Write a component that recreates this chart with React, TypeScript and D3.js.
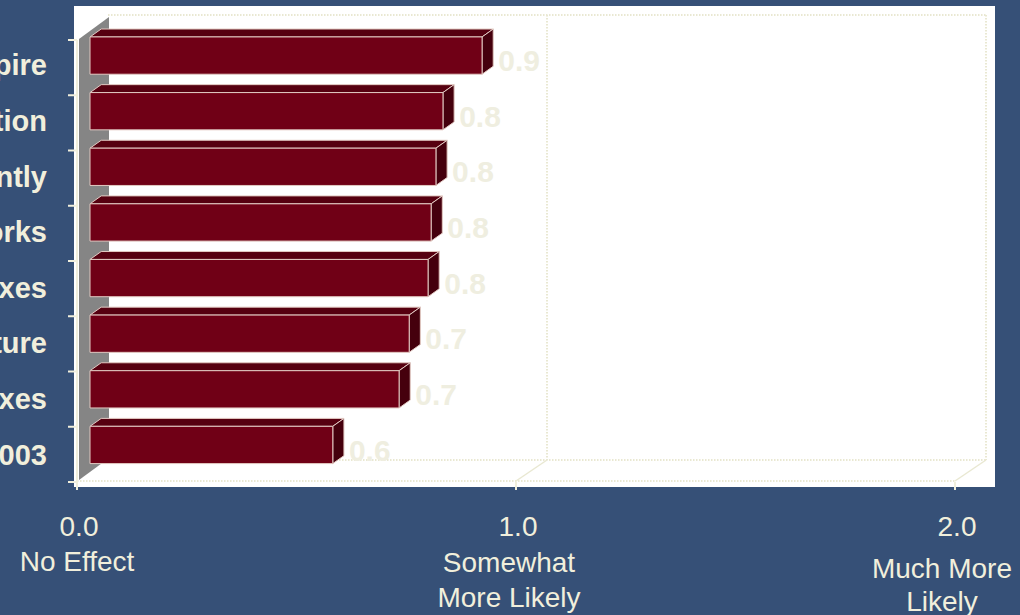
import React from "react";
import * as d3 from "d3";

const categories = [
  "Opposes the Empire",
  "Reforms Immigration",
  "Votes Independently",
  "Supports Public Works",
  "Cuts Property Taxes",
  "Invests in Infrastructure",
  "Cuts Income Taxes",
  "Opposed the War in 2003",
];
const values = [0.893, 0.804, 0.788, 0.777, 0.77, 0.727, 0.704, 0.553];
const valueLabels = ["0.9", "0.8", "0.8", "0.8", "0.8", "0.7", "0.7", "0.6"];
const tickValues = [0, 1, 2];
const tickLabels = ["0.0", "1.0", "2.0"];
const tickDescriptions = [["No Effect"], ["Somewhat", "More Likely"], ["Much More", "Likely"]];

const W = 1020;
const H = 615;
const BG = "#365077";
const CREAM = "#f1efdc";
const GRID = "#e9e8d2";

export default function App() {
  const x = d3.scaleLinear().domain([0, 2]).range([77, 955]);
  const y = d3
    .scaleBand<string>()
    .domain(categories)
    .range([37, 482])
    .paddingInner(0.33)
    .paddingOuter(0.165);

  // 3D depth offset (front plane -> back plane)
  const DX = 31;
  const DY = -22;
  const f0 = 0.42; // bar front depth fraction
  const f1 = 0.78; // bar back depth fraction
  const bdx = DX * (f1 - f0);
  const bdy = DY * (f1 - f0);

  const frontTop = 37;
  const frontBottom = 482;
  const x0 = x(0);
  const xMax = x(2);

  const bw = y.bandwidth();

  const pts = (arr: [number, number][]) => arr.map((p) => p.join(",")).join(" ");

  return (
    <svg
      width={W}
      height={H}
      style={{ position: "absolute", left: 0, top: 0, background: BG, fontFamily: "Arial, 'Liberation Sans', sans-serif" }}
    >
      <rect x={0} y={0} width={W} height={H} fill={BG} />
      {/* white plot area */}
      <rect x={74} y={6} width={921} height={481} fill="#ffffff" />

      {/* back wall gridlines */}
      <g stroke={GRID} strokeWidth={2} strokeDasharray="1.5,1.5" fill="none">
        <line x1={x0 + DX} y1={frontTop + DY} x2={xMax + DX} y2={frontTop + DY} />
        <line x1={x0 + DX} y1={frontBottom + DY} x2={xMax + DX} y2={frontBottom + DY} />
        {tickValues.slice(1).map((v) => (
          <line key={"bg" + v} x1={x(v) + DX} y1={frontTop + DY} x2={x(v) + DX} y2={frontBottom + DY} />
        ))}
        <line x1={x0} y1={frontBottom - 1} x2={xMax} y2={frontBottom - 1} />
      </g>
      {/* floor diagonals */}
      <g stroke={GRID} strokeWidth={1.5} fill="none">
        {tickValues.slice(1).map((v) => (
          <line key={"fd" + v} x1={x(v)} y1={frontBottom - 1} x2={x(v) + DX} y2={frontBottom + DY} />
        ))}
      </g>

      {/* left gray wall */}
      <polygon
        points={pts([
          [x0 + 2, frontBottom - 2],
          [x0 + 2, frontTop + 2],
          [x0 + DX + 1, frontTop + DY + 2],
          [x0 + DX + 1, frontBottom + DY - 2],
        ])}
        fill="#858585"
      />

      {/* bars */}
      {categories.map((c, i) => {
        const bx0 = x0 + DX * f0;
        const bx1 = x(values[i]) + DX * f0;
        const by0 = (y(c) as number) + DY * f0;
        const by1 = by0 + bw;
        return (
          <g key={c} stroke="#e2c9c2" strokeWidth={1} strokeLinejoin="round">
            <polygon
              points={pts([
                [bx0, by0],
                [bx1, by0],
                [bx1 + bdx, by0 + bdy],
                [bx0 + bdx, by0 + bdy],
              ])}
              fill="#560010"
            />
            <polygon
              points={pts([
                [bx1, by0],
                [bx1 + bdx, by0 + bdy],
                [bx1 + bdx, by1 + bdy],
                [bx1, by1],
              ])}
              fill="#45000d"
            />
            <rect x={bx0} y={by0} width={bx1 - bx0} height={bw} fill="#700016" />
          </g>
        );
      })}

      {/* value labels */}
      {categories.map((c, i) => {
        const bx1 = x(values[i]) + DX * f0;
        const by1 = (y(c) as number) + DY * f0 + bw;
        return (
          <text
            key={"v" + c}
            x={bx1 + bdx + 5}
            y={by1 - 3}
            fill="#efeee0"
            fontSize={30}
            fontWeight="bold"
          >
            {valueLabels[i]}
          </text>
        );
      })}

      {/* left axis */}
      <line x1={x0} y1={frontTop + 3} x2={x0} y2={frontBottom + 1} stroke={CREAM} strokeWidth={2} />
      {d3.range(categories.length + 1).map((k) => {
        const yy = 40 + ((frontBottom - 40) * k) / categories.length;
        return <line key={"lt" + k} x1={68} x2={x0} y1={yy} y2={yy} stroke={CREAM} strokeWidth={2} />;
      })}
      {/* bottom ticks */}
      {tickValues.map((v) => (
        <line key={"bt" + v} x1={x(v)} x2={x(v)} y1={frontBottom} y2={frontBottom + 8} stroke={CREAM} strokeWidth={2} />
      ))}

      {/* category labels */}
      {categories.map((c) => (
        <text
          key={"c" + c}
          x={47}
          y={(y(c) as number) + bw / 2 + 10.5}
          textAnchor="end"
          fill={CREAM}
          fontSize={29}
          fontWeight="bold"
        >
          {c}
        </text>
      ))}

      {/* x tick labels */}
      {tickValues.map((v, i) => (
        <text key={"tl" + v} x={x(v) + 2} y={536} textAnchor="middle" fill={CREAM} fontSize={28}>
          {tickLabels[i]}
        </text>
      ))}
      {tickDescriptions.map((lines, i) => {
        const cx = x(tickValues[i]) + [0, -7, -13][i];
        const baseY = [571, 572, 578][i];
        const lh = [36, 35, 33][i];
        return lines.map((ln, k) => (
          <text key={"td" + i + k} x={cx} y={baseY + k * lh} textAnchor="middle" fill={CREAM} fontSize={28}>
            {ln}
          </text>
        ));
      })}
    </svg>
  );
}
